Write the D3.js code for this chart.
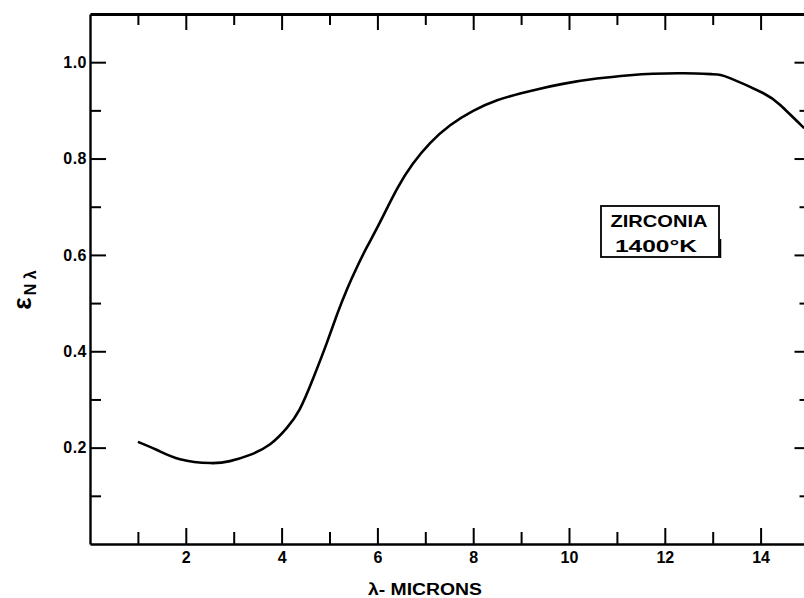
<!DOCTYPE html>
<html>
<head>
<meta charset="utf-8">
<script src="https://cdn.jsdelivr.net/npm/d3@7"></script>
<style>
  html, body { margin: 0; padding: 0; background: #fff; }
  svg { display: block; }
  text { font-family: "Liberation Sans", Arial, sans-serif; font-weight: bold; fill: #000; }
</style>
</head>
<body>
<svg id="chart" width="804" height="598"></svg>
<script>
// Normal spectral emittance of zirconia at 1400 K
const wavelength = [1.00, 1.40, 1.88, 2.51, 2.92, 3.34, 3.76, 4.11, 4.38, 4.66, 4.95, 5.16, 5.37, 5.57, 5.78, 6.05, 6.41, 6.74, 7.10, 7.52, 8.00, 8.50, 8.98, 9.35, 9.87, 10.58, 11.27, 11.75, 12.40, 13.00, 13.36, 14.05, 14.41, 14.91];
const emittance  = [0.212, 0.195, 0.176, 0.168, 0.172, 0.185, 0.207, 0.241, 0.280, 0.344, 0.419, 0.477, 0.530, 0.574, 0.616, 0.667, 0.737, 0.789, 0.832, 0.869, 0.899, 0.921, 0.935, 0.944, 0.955, 0.966, 0.973, 0.976, 0.977, 0.975, 0.967, 0.936, 0.911, 0.863];

const xMajorTicks = [2, 4, 6, 8, 10, 12, 14];
const xMinorTicks = [1, 3, 5, 7, 9, 11, 13];
const yMajorTicks = [0.2, 0.4, 0.6, 0.8, 1.0];
const yMinorTicks = [0.1, 0.3, 0.5, 0.7, 0.9];
const boxLines = ["ZIRCONIA", "1400°K"];

const svg = d3.select("#chart");
const plotLeft = 90, plotRight = 808.5, plotTop = 14, plotBottom = 544;

const x = d3.scaleLinear().domain([0, 15]).range([plotLeft, plotRight]);
const y = d3.scaleLinear().domain([0, 1.1]).range([plotBottom, plotTop]);

function styleAxis(g, width) {
  g.selectAll(".domain").attr("stroke", "#000").attr("stroke-width", width);
  g.selectAll(".tick line").attr("stroke", "#000").attr("stroke-width", 2);
}
function styleLabels(g, spacing) {
  g.selectAll("text")
    .attr("font-size", 16)
    .attr("font-family", "Liberation Sans, Arial, sans-serif")
    .attr("font-weight", "bold")
    .attr("letter-spacing", spacing);
}

// bottom axis: inward ticks, labels on even microns
svg.append("g").attr("transform", `translate(0,${plotBottom})`)
  .call(d3.axisBottom(x).tickValues(xMajorTicks).tickSizeInner(-16).tickSizeOuter(0).tickPadding(8).tickFormat(d3.format("d")))
  .call(g => styleAxis(g, 2.4))
  .call(g => styleLabels(g, 0));
svg.append("g").attr("transform", `translate(0,${plotBottom})`)
  .call(d3.axisBottom(x).tickValues(xMinorTicks).tickSizeInner(-12).tickSizeOuter(0).tickFormat(""))
  .call(g => styleAxis(g, 0));

// top axis: ticks pointing down
svg.append("g").attr("transform", `translate(0,${plotTop})`)
  .call(d3.axisTop(x).tickValues(xMajorTicks).tickSizeInner(-16).tickSizeOuter(0).tickFormat(""))
  .call(g => styleAxis(g, 2.8));
svg.append("g").attr("transform", `translate(0,${plotTop})`)
  .call(d3.axisTop(x).tickValues(xMinorTicks).tickSizeInner(-11).tickSizeOuter(0).tickFormat(""))
  .call(g => styleAxis(g, 0));

// left axis: inward ticks with labels
svg.append("g").attr("transform", `translate(${plotLeft},0)`)
  .call(d3.axisLeft(y).tickValues(yMajorTicks).tickSizeInner(-16).tickSizeOuter(0).tickPadding(3).tickFormat(d3.format(".1f")))
  .call(g => styleAxis(g, 2.4))
  .call(g => styleLabels(g, 0.5));
svg.append("g").attr("transform", `translate(${plotLeft},0)`)
  .call(d3.axisLeft(y).tickValues(yMinorTicks).tickSizeInner(-11).tickSizeOuter(0).tickFormat(""))
  .call(g => styleAxis(g, 0));

// right axis (frame edge), ticks pointing inward
svg.append("g").attr("transform", `translate(${plotRight},0)`)
  .call(d3.axisRight(y).tickValues(yMajorTicks).tickSizeInner(-14).tickSizeOuter(0).tickFormat(""))
  .call(g => styleAxis(g, 2.4));
svg.append("g").attr("transform", `translate(${plotRight},0)`)
  .call(d3.axisRight(y).tickValues(yMinorTicks).tickSizeInner(-9).tickSizeOuter(0).tickFormat(""))
  .call(g => styleAxis(g, 0));

// emittance curve
const line = d3.line()
  .x((d, i) => x(wavelength[i]))
  .y(d => y(d))
  .curve(d3.curveNatural);
svg.append("path")
  .attr("d", line(emittance))
  .attr("fill", "none")
  .attr("stroke", "#000")
  .attr("stroke-width", 2.6)
  .attr("stroke-linejoin", "round");

// material label box
const bx = 601, by = 206, bw = 118, bh = 51;
svg.append("rect")
  .attr("x", bx).attr("y", by).attr("width", bw).attr("height", bh)
  .attr("fill", "#fff").attr("stroke", "#000").attr("stroke-width", 1.8);
svg.append("line")
  .attr("x1", bx + bw + 1.5).attr("x2", bx + bw + 1.5).attr("y1", by + 33).attr("y2", by + bh + 1)
  .attr("stroke", "#000").attr("stroke-width", 1.5);
const lineLengths = [97, 82];
const baselines = [227, 252];
boxLines.forEach((t, i) => {
  svg.append("text")
    .attr("x", bx + bw / 2 - 1 + (i === 1 ? -3 : 0))
    .attr("y", baselines[i])
    .attr("text-anchor", "middle")
    .attr("font-size", 17)
    .attr("textLength", lineLengths[i])
    .attr("lengthAdjust", "spacingAndGlyphs")
    .text(t);
});

// axis titles
svg.append("text")
  .attr("x", 425).attr("y", 595)
  .attr("text-anchor", "middle")
  .attr("font-size", 16)
  .attr("textLength", 114)
  .attr("lengthAdjust", "spacingAndGlyphs")
  .text("λ- MICRONS");

const yTitle = svg.append("text")
  .attr("transform", "translate(31,290) rotate(-90)")
  .attr("text-anchor", "middle")
  .attr("font-size", 26);
yTitle.append("tspan").text("ε");
yTitle.append("tspan").attr("font-size", 16).attr("dy", 5).attr("dx", 2).text("N λ");
</script>
</body>
</html>
